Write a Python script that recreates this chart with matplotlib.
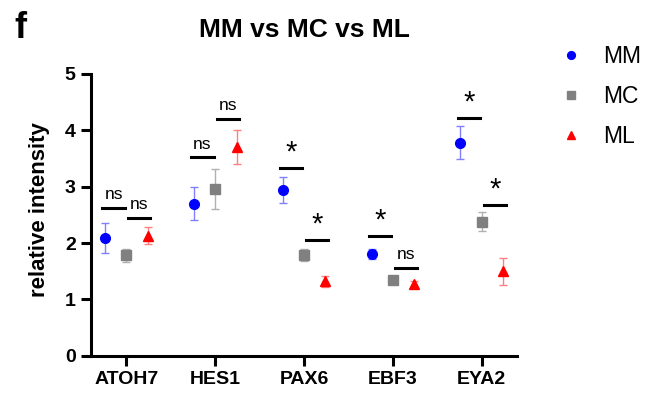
import matplotlib
matplotlib.use('Agg')
import matplotlib.pyplot as plt
import numpy as np

plt.rcParams['font.family'] = ['Liberation Sans', 'DejaVu Sans']

# data
genes = ['ATOH7', 'HES1', 'PAX6', 'EBF3', 'EYA2']
mm = [2.09, 2.70, 2.94, 1.80, 3.78]
mm_err = [0.27, 0.29, 0.23, 0.09, 0.29]
mc = [1.78, 2.96, 1.79, 1.34, 2.38]
mc_err = [0.12, 0.35, 0.10, 0.05, 0.17]
ml = [2.13, 3.70, 1.32, 1.27, 1.50]
ml_err = [0.15, 0.30, 0.10, 0.05, 0.24]
# significance: (MM vs MC), (MC vs ML)
sig1_y = [2.63, 3.52, 3.33, 2.13, 4.22]
sig1_txt = ['ns', 'ns', '*', '*', '*']
sig2_y = [2.45, 4.20, 2.06, 1.56, 2.68]
sig2_txt = ['ns', 'ns', '*', 'ns', '*']

fig = plt.figure(figsize=(6.59, 3.99), dpi=100)
ax = fig.add_axes([0.138, 0.108, 0.647, 0.707])

x = np.arange(len(genes))
off = 0.24

ax.errorbar(x - off, mm, yerr=mm_err, fmt='none', ecolor='#8080ff', elinewidth=1, capsize=3)
ax.errorbar(x, mc, yerr=mc_err, fmt='none', ecolor='#b0b0b0', elinewidth=1, capsize=3)
ax.errorbar(x + off, ml, yerr=ml_err, fmt='none', ecolor='#ff8080', elinewidth=1, capsize=3)
ax.plot(x - off, mm, 'o', color='#0000ff', ms=7, label='MM', zorder=3)
ax.plot(x, mc, 's', color='#808080', ms=6.5, label='MC', zorder=3)
ax.plot(x + off, ml, '^', color='#ff0000', ms=7, label='ML', zorder=3)

for i in range(len(genes)):
    ax.plot([i - 0.27, i - 0.02], [sig1_y[i]] * 2, color='black', lw=2.2)
    ax.plot([i + 0.02, i + 0.27], [sig2_y[i]] * 2, color='black', lw=2.2)
    for xc, yy, t in [(i - 0.145, sig1_y[i], sig1_txt[i]), (i + 0.145, sig2_y[i], sig2_txt[i])]:
        if t == '*':
            ax.text(xc, yy + 0.02, t, ha='center', va='bottom', fontsize=21)
        else:
            ax.text(xc, yy + 0.1, t, ha='center', va='bottom', fontsize=12.5)

ax.set_xlim(-0.4, 4.4)
ax.set_ylim(0, 5)
ax.set_yticks([0, 1, 2, 3, 4, 5])
ax.set_xticks(x)
ax.set_xticklabels(genes)
for lab in ax.get_xticklabels() + ax.get_yticklabels():
    lab.set_fontweight('bold')
    lab.set_fontsize(14)
ax.tick_params(width=2.2, length=7, pad=4)
for s in ['top', 'right']:
    ax.spines[s].set_visible(False)
for s in ['left', 'bottom']:
    ax.spines[s].set_linewidth(2.2)

fig.text(40 / 659, 0.474, 'relative intensity', rotation=90, ha='center', va='center',
         fontweight='bold', fontsize=16)
fig.text(304 / 659, 1 - 37 / 399, 'MM vs MC vs ML', ha='center', va='baseline',
         fontweight='bold', fontsize=19)
fig.text(14 / 659, 1 - 38 / 399, 'f', ha='left', va='baseline', fontweight='bold', fontsize=26)

fig.legend(loc='upper left', bbox_to_anchor=(554 / 659, 1 - 45 / 399), frameon=False,
           fontsize=16.5, borderpad=0, borderaxespad=0, handletextpad=0.65,
           labelspacing=0.75, markerscale=0.8, handlelength=1.5)

fig.savefig('out.png', dpi=100)
